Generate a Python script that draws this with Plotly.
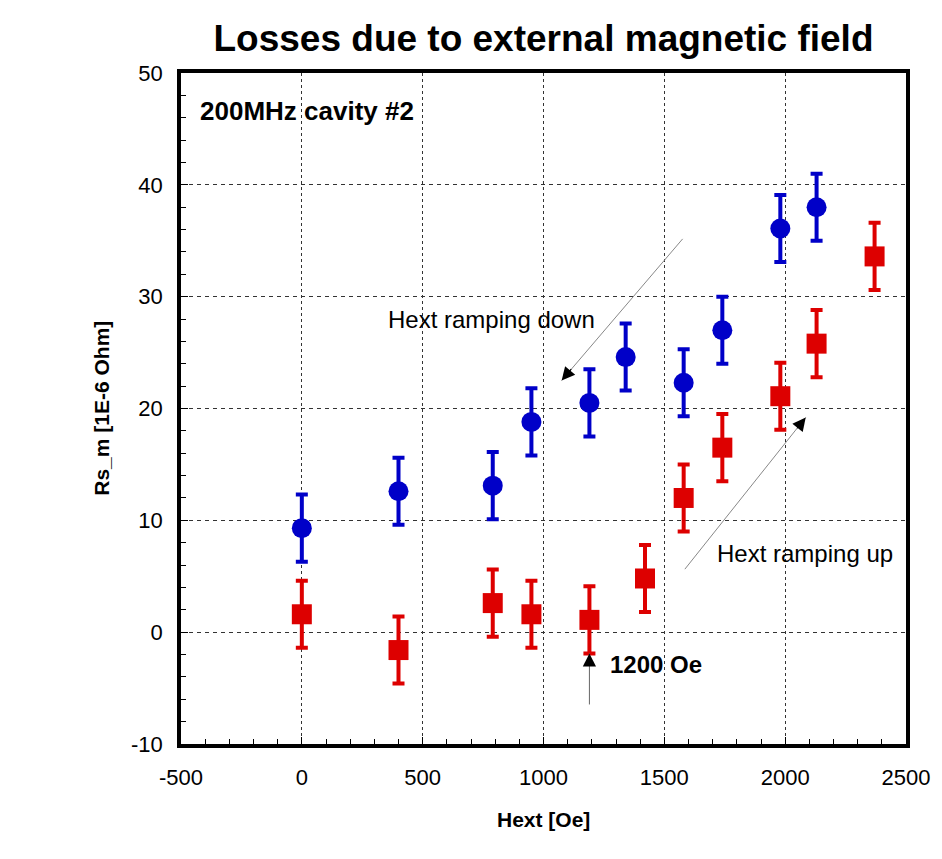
import plotly.graph_objects as go

# Data
hext_down = [0, 400, 790, 950, 1190, 1340, 1580, 1740, 1980, 2130]
rs_down = [9.3, 12.6, 13.1, 18.8, 20.5, 24.6, 22.3, 27.0, 36.1, 38.0]
err_down = [3, 3, 3, 3, 3, 3, 3, 3, 3, 3]

hext_up = [0, 400, 790, 950, 1190, 1420, 1580, 1740, 1980, 2130, 2370]
rs_up = [1.6, -1.6, 2.6, 1.6, 1.1, 4.8, 12.0, 16.5, 21.1, 25.8, 33.6]
err_up = [3, 3, 3, 3, 3, 3, 3, 3, 3, 3, 3]

x_tickvals = [-500, 0, 500, 1000, 1500, 2000, 2500]
x_ticktext = ["-500", "0", "500", "1000", "1500", "2000", "2500"]
y_tickvals = [-10, 0, 10, 20, 30, 40, 50]
y_ticktext = ["-10", "0", "10", "20", "30", "40", "50"]

FONT = "Liberation Sans, Arial, Helvetica, sans-serif"

fig = go.Figure()
fig.add_trace(go.Scatter(
    x=hext_down, y=rs_down, mode="markers",
    marker=dict(symbol="circle", size=20, color="#0000c8"),
    error_y=dict(type="data", array=err_down, visible=True, color="#0000c8", thickness=4, width=6),
    showlegend=False,
))
fig.add_trace(go.Scatter(
    x=hext_up, y=rs_up, mode="markers",
    marker=dict(symbol="square", size=20, color="#dd0000"),
    error_y=dict(type="data", array=err_up, visible=True, color="#dd0000", thickness=4, width=6),
    showlegend=False,
))

axis_common = dict(
    showline=True, linecolor="black", linewidth=3.5, mirror=True,
    ticks="inside", ticklen=7, tickcolor="black", tickwidth=1,
    showgrid=True, gridcolor="#333333", gridwidth=1,
    zeroline=False, ticklabeloverflow="allow",
    tickfont=dict(family=FONT, size=22, color="black"),
)

fig.update_xaxes(
    range=[-500, 2500], tickvals=x_tickvals, ticktext=x_ticktext, griddash="dot",
    ticklabelstandoff=11,
    minor=dict(ticks="inside", ticklen=5, tickcolor="black", dtick=100, showgrid=False),
    **axis_common,
)
fig.update_yaxes(
    range=[-10, 50], tickvals=y_tickvals, ticktext=y_ticktext, griddash="4px,4px",
    ticklabelstandoff=10,
    minor=dict(ticks="inside", ticklen=5, tickcolor="black", dtick=2, showgrid=False),
    **axis_common,
)

ann_font = dict(family=FONT, size=24, color="black")
fig.add_annotation(x=0.5, y=-0.113, xref="paper", yref="paper", text="<b>Hext [Oe]</b>",
                   xanchor="center", yanchor="middle",
                   showarrow=False, font=dict(family=FONT, size=21, color="black"))
fig.add_annotation(x=-0.110, y=0.5, xref="paper", yref="paper", text="<b>Rs_m [1E-6 Ohm]</b>",
                   xanchor="center", yanchor="middle",
                   showarrow=False, textangle=-90, font=dict(family=FONT, size=21, color="black"))

fig.add_annotation(x=-430, y=46.6, xref="x", yref="y", text="<b>200MHz cavity #2</b>",
                   showarrow=False, xanchor="left", yanchor="middle", font=dict(family=FONT, size=26, color="black"))

# ramping down
fig.add_annotation(x=785, y=28.0, xref="x", yref="y", text="Hext ramping down",
                   xanchor="center", yanchor="middle", showarrow=False, font=ann_font)
fig.add_annotation(x=1075, y=22.5, ax=1581, ay=35.3, xref="x", yref="y", axref="x", ayref="y",
                   text="", showarrow=True, arrowhead=0, arrowwidth=1, arrowcolor="#888888")
fig.add_annotation(x=1075, y=22.5, ax=1120, ay=23.65, xref="x", yref="y", axref="x", ayref="y",
                   text="", showarrow=True, arrowhead=2, arrowsize=2.2, arrowwidth=1.2, arrowcolor="black")

# ramping up
fig.add_annotation(x=2080, y=7.05, xref="x", yref="y", text="Hext ramping up",
                   xanchor="center", yanchor="middle", showarrow=False, font=ann_font)
fig.add_annotation(x=2085, y=19.2, ax=1580, ay=5.5, xref="x", yref="y", axref="x", ayref="y",
                   text="", showarrow=True, arrowhead=0, arrowwidth=1, arrowcolor="#888888")
fig.add_annotation(x=2085, y=19.2, ax=2045, ay=18.1, xref="x", yref="y", axref="x", ayref="y",
                   text="", showarrow=True, arrowhead=2, arrowsize=2.2, arrowwidth=1.2, arrowcolor="black")

# 1200 Oe
fig.add_annotation(x=1265, y=-2.9, xref="x", yref="y", text="<b>1200 Oe</b>",
                   showarrow=False, xanchor="left", yanchor="middle", font=ann_font)
fig.add_annotation(x=1190, y=-1.9, ax=1190, ay=-6.6, xref="x", yref="y", axref="x", ayref="y",
                   text="", showarrow=True, arrowhead=0, arrowwidth=1, arrowcolor="#666666")
fig.add_annotation(x=1190, y=-1.9, ax=1190, ay=-2.9, xref="x", yref="y", axref="x", ayref="y",
                   text="", showarrow=True, arrowhead=2, arrowsize=2.2, arrowwidth=1.2, arrowcolor="black")

fig.update_layout(
    width=934, height=851,
    margin=dict(l=173, r=23, t=65, b=115),
    paper_bgcolor="white", plot_bgcolor="white",
    title=dict(text="<b>Losses due to external magnetic field</b>", xref="paper", x=0.5, xanchor="center",
               y=0.965, yanchor="middle",
               font=dict(family=FONT, size=37, color="black")),
)

fig.write_html("out.html")
